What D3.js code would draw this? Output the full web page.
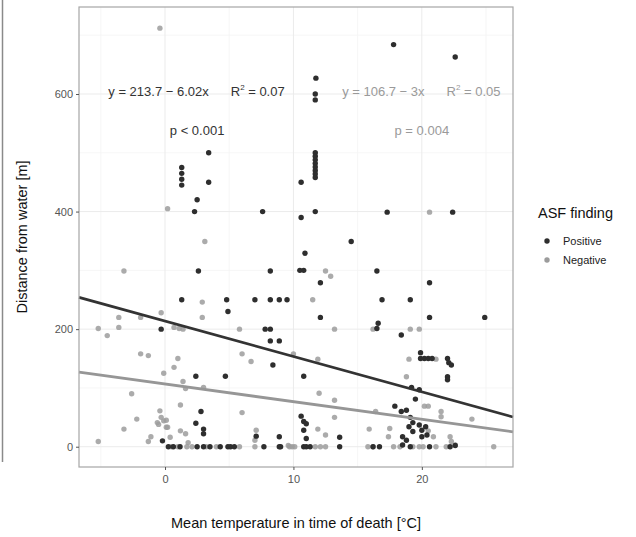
<!DOCTYPE html>
<html>
<head>
<meta charset="utf-8">
<script src="https://cdn.jsdelivr.net/npm/d3@7"></script>
<style>
  body { margin: 0; background: #fff; }
  text { font-family: "Liberation Sans", Arial, sans-serif; }
</style>
</head>
<body>
<div id="chart"></div>
<script>
// Positive cases: [temperature, distance]
const positive = [
  [17.8, 684], [22.6, 663], [11.75, 627], [11.7, 600], [11.7, 590],
  [1.3, 475], [1.3, 465], [1.3, 455], [1.3, 445], [3.4, 500], [3.4, 450],
  [2.5, 420], [2.3, 400], [7.6, 400], [10.6, 450], [10.6, 390], [11.7, 400],
  [11.7, 500], [11.7, 494], [11.7, 488], [11.7, 482], [11.7, 476], [11.7, 470], [11.7, 464], [11.7, 458],
  [17.3, 399], [22.4, 399], [14.5, 349], [10.9, 329], [10.5, 300], [10.8, 300],
  [12.1, 279], [16.5, 299], [20.6, 279], [16.9, 250], [19.1, 250],
  [2.6, 299], [8.2, 299], [1.3, 250], [4.8, 250], [7.0, 250], [8.2, 250], [8.9, 250], [9.5, 250],
  [4.9, 230], [-0.3, 200], [7.8, 200], [8.2, 200], [8.2, 180], [8.9, 180], [8.4, 139],
  [2.4, 120], [4.7, 120], [10.8, 120], [2.8, 60], [2.4, 40], [3.0, 30], [3.0, 22],
  [10.6, 52], [10.8, 43], [11.0, 39], [10.8, 28], [11.0, 14], [8.9, 17], [-0.2, 10],
  [0.26, 0], [0.65, 0], [1.17, 0], [2.5, 0], [3.0, 0], [3.5, 0], [4.3, 0], [5.1, 0], [5.4, 0],
  [7.7, 0], [9.0, 0], [10.8, 0], [11.3, 0], [11.0, 0], [8.9, 0], [4.9, 0],
  [12.1, 220], [7.1, 18], [13.6, 16], [13.6, 0],
  [20.6, 220], [24.9, 220], [16.6, 210], [16.5, 201], [18.4, 190],
  [19.9, 160], [19.9, 150], [20.2, 150], [20.5, 150], [20.8, 150],
  [22.0, 150], [22.1, 143], [22.3, 139], [22.0, 119], [22.0, 114],
  [19.2, 101], [19.8, 97], [19.5, 81], [17.9, 69], [18.4, 60], [18.8, 62],
  [19.1, 50], [19.3, 41], [19.0, 34], [19.3, 26],
  [19.8, 37], [20.0, 28], [20.3, 34], [20.4, 20], [20.0, 17],
  [18.5, 17], [18.8, 11],
  [16.2, 0], [16.7, 0], [18.5, 3], [19.1, 0], [20.6, 0], [22.2, 0], [22.6, 2]
];

// Negative cases: [temperature, distance]
const negative = [
  [-0.4, 712], [0.2, 405], [20.6, 399], [12.5, 299], [12.9, 290], [11.5, 250],
  [3.1, 349], [-3.2, 299], [2.9, 246], [2.9, 220], [-0.3, 228], [-3.6, 220],
  [-3.6, 203], [-5.2, 201], [-4.5, 189], [-1.9, 220], [0.7, 203], [1.4, 200],
  [1.1, 201], [5.8, 200], [10.0, 158], [11.9, 149], [-1.9, 158], [-1.3, 155],
  [6.0, 158], [6.7, 145], [1.0, 150], [0.7, 135], [-0.1, 125], [1.4, 111], [1.6, 99],
  [3.0, 101], [-2.6, 90], [12.0, 91], [1.2, 71], [6.0, 58], [-0.4, 61], [-2.2, 47],
  [-0.6, 41], [-0.1, 44], [0.1, 33], [-3.2, 30], [1.2, 27], [1.6, 22], [7.1, 28],
  [11.9, 30], [-5.2, 9], [-1.3, 9], [-1.1, 17], [-0.3, 50], [0.1, 45], [-0.5, 38],
  [0.2, 33], [0.4, 16], [1.8, 7],
  [0.5, 0], [1.0, 0], [1.7, 0], [2.1, 0], [3.2, 0], [4.0, 0], [5.8, 0], [7.0, 0],
  [9.7, 0], [10.1, 0], [11.7, 0], [9.6, 2], [9.9, 0], [12.1, 0], [12.5, 0], [15.8, 0], [16.2, 0],
  [13.2, 200], [16.2, 200], [13.2, 79], [13.2, 50], [15.9, 30], [7.0, 11], [12.5, 20],
  [19.1, 200], [19.8, 200], [19.0, 149], [21.1, 149], [18.8, 119],
  [20.2, 69], [20.5, 69], [21.5, 60], [21.5, 51], [23.9, 47], [16.4, 60],
  [20.5, 27], [20.9, 17], [17.5, 31], [17.4, 17], [22.2, 17], [22.3, 9], [22.6, 3],
  [17.8, 0], [18.3, 0], [19.3, 0], [19.8, 0], [20.1, 0], [21.1, 0], [21.9, 0], [25.6, 0]
];

// Fitted lines: intercept, slope
const fitPositive = [213.7, -6.02];
const fitNegative = [106.7, -3];

const xTicks = [0, 10, 20];
const yTicks = [0, 200, 400, 600];
const xMinor = [-5, 5, 15, 25];
const yMinor = [100, 300, 500, 700];

const legendLabels = ["Positive", "Negative"];
const darkCol = "#2e2e2e", greyCol = "#9c9c9c";

const W = 636, H = 537;
const margin = {top: 7, right: 123, bottom: 70, left: 79};
const width = W - margin.left - margin.right,
      height = H - margin.top - margin.bottom;

const x = d3.scaleLinear().domain([-6.7, 27.1]).range([0, width]);
const y = d3.scaleLinear().domain([-34.5, 748]).range([height, 0]);

const svg = d3.select("#chart").append("svg")
    .attr("width", W).attr("height", H);

// edge line left over from the original figure crop
svg.append("line")
    .attr("x1", 2.5).attr("x2", 2.5).attr("y1", 0).attr("y2", 462)
    .attr("stroke", "#8a8a8a").attr("stroke-width", 1.5);

const g = svg.append("g")
    .attr("transform", `translate(${margin.left},${margin.top})`);

// grid
g.selectAll(".xminor").data(xMinor).enter().append("line")
    .attr("x1", d => x(d)).attr("x2", d => x(d)).attr("y1", 0).attr("y2", height)
    .attr("stroke", "#f4f4f4").attr("stroke-width", 0.8);
g.selectAll(".yminor").data(yMinor).enter().append("line")
    .attr("y1", d => y(d)).attr("y2", d => y(d)).attr("x1", 0).attr("x2", width)
    .attr("stroke", "#f4f4f4").attr("stroke-width", 0.8);
g.selectAll(".xmajor").data(xTicks).enter().append("line")
    .attr("x1", d => x(d)).attr("x2", d => x(d)).attr("y1", 0).attr("y2", height)
    .attr("stroke", "#ebebeb").attr("stroke-width", 1);
g.selectAll(".ymajor").data(yTicks).enter().append("line")
    .attr("y1", d => y(d)).attr("y2", d => y(d)).attr("x1", 0).attr("x2", width)
    .attr("stroke", "#ebebeb").attr("stroke-width", 1);

// points
g.selectAll(".neg").data(negative).enter().append("circle")
    .attr("cx", d => x(d[0])).attr("cy", d => y(d[1])).attr("r", 2.7)
    .attr("fill", greyCol).attr("fill-opacity", 0.85);
g.selectAll(".pos").data(positive).enter().append("circle")
    .attr("cx", d => x(d[0])).attr("cy", d => y(d[1])).attr("r", 2.7)
    .attr("fill", darkCol);

// regression lines over the full x range
const line = d3.line().x(d => x(d[0])).y(d => y(d[1]));
function fitPts(f) {
  return x.domain().map(t => [t, f[0] + f[1] * t]);
}
g.append("path").datum(fitPts(fitNegative)).attr("d", line)
    .attr("fill", "none").attr("stroke", "#969696").attr("stroke-width", 2.8);
g.append("path").datum(fitPts(fitPositive)).attr("d", line)
    .attr("fill", "none").attr("stroke", "#333333").attr("stroke-width", 2.8);

// equations
function eqText(cx, cy, col, eq, r2) {
  const t = g.append("text").attr("x", x(cx)).attr("y", y(cy))
      .attr("text-anchor", "middle").attr("fill", col).attr("font-size", 13);
  t.append("tspan").text(eq);
  t.append("tspan").text("R").attr("dx", 22);
  t.append("tspan").text("2").attr("font-size", 8).attr("dy", -6);
  t.append("tspan").text(" = " + r2).attr("dy", 6);
}
eqText(2.45, 597, "#333", "y = 213.7 \u2212 6.02x", "0.07");
eqText(19.96, 597, "#9a9a9a", "y = 106.7 \u2212 3x", "0.05");
g.append("text").attr("x", x(2.5)).attr("y", y(530)).attr("text-anchor", "middle")
    .attr("fill", "#333").attr("font-size", 13).text("p < 0.001");
g.append("text").attr("x", x(20)).attr("y", y(530)).attr("text-anchor", "middle")
    .attr("fill", "#9a9a9a").attr("font-size", 13).text("p = 0.004");

// border
g.append("rect").attr("width", width).attr("height", height)
    .attr("fill", "none").attr("stroke", "#a6a6a6").attr("stroke-width", 1.2);

// axes
const xAxis = g.append("g").attr("transform", `translate(0,${height})`)
    .call(d3.axisBottom(x).tickValues(xTicks).tickSize(3).tickPadding(5));
const yAxis = g.append("g")
    .call(d3.axisLeft(y).tickValues(yTicks).tickSize(3).tickPadding(3));
[xAxis, yAxis].forEach(a => {
  a.select(".domain").remove();
  a.selectAll(".tick line").attr("stroke", "#555");
  a.selectAll(".tick text").attr("fill", "#555").attr("font-size", 11)
      .style("font-family", "Liberation Sans, Arial, sans-serif");
});

// axis titles
svg.append("text").attr("x", margin.left + width / 2).attr("y", 528)
    .attr("text-anchor", "middle").attr("font-size", 14.5).attr("fill", "#111")
    .text("Mean temperature in time of death [\u00B0C]");
svg.append("text").attr("transform", `translate(27,${margin.top + height / 2}) rotate(-90)`)
    .attr("text-anchor", "middle").attr("font-size", 14.5).attr("fill", "#111")
    .text("Distance from water [m]");

// legend
const leg = svg.append("g").attr("transform", "translate(533,0)");
leg.append("text").attr("x", 5).attr("y", 218).attr("font-size", 14.5).attr("fill", "#111")
    .text("ASF finding");
leg.selectAll(".key").data(legendLabels).enter().append("circle")
    .attr("cx", 14).attr("cy", (d, i) => 241 + i * 19).attr("r", 2.7)
    .attr("fill", (d, i) => i === 0 ? darkCol : greyCol);
leg.selectAll(".lab").data(legendLabels).enter().append("text")
    .attr("x", 30).attr("y", (d, i) => 245 + i * 19).attr("font-size", 11).attr("fill", "#222")
    .text(d => d);
</script>
</body>
</html>
